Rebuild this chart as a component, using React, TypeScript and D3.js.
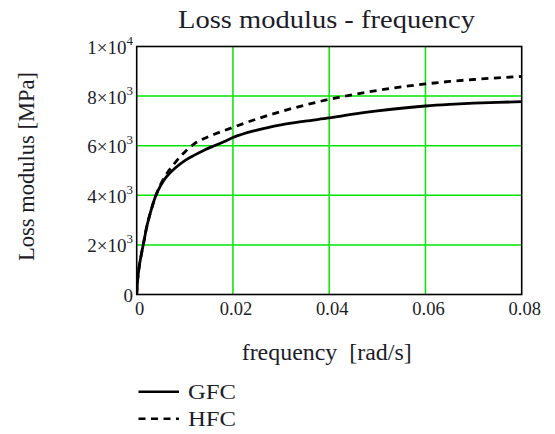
import React from "react";
import * as d3 from "d3";

// Frequency samples [rad/s]
const frequency = [
  0, 0.0002, 0.0005, 0.001, 0.0015, 0.002, 0.003, 0.004, 0.005, 0.006, 0.007,
  0.008, 0.01, 0.012, 0.014, 0.016, 0.018, 0.02, 0.025, 0.03, 0.035, 0.04,
  0.045, 0.05, 0.055, 0.06, 0.065, 0.07, 0.075, 0.08,
];

// Loss modulus [MPa]
const gfc = [
  0, 600, 1100, 1650, 2150, 2650, 3400, 4000, 4400, 4700, 4920, 5100, 5400,
  5620, 5820, 5990, 6150, 6330, 6630, 6840, 6990, 7120, 7270, 7400, 7510,
  7600, 7665, 7715, 7750, 7775,
];
const hfc = [
  0, 600, 1100, 1650, 2150, 2650, 3400, 4000, 4450, 4800, 5080, 5320, 5750,
  6080, 6290, 6450, 6600, 6740, 7080, 7380, 7640, 7870, 8060, 8230, 8370,
  8490, 8590, 8670, 8735, 8790,
];

const seriesNames = ["GFC", "HFC"];
const xTicks = [0, 0.02, 0.04, 0.06, 0.08];
const yTicks = [0, 2000, 4000, 6000, 8000, 10000];

const title = "Loss modulus - frequency";
const xTitle = "frequency\u00a0\u00a0[rad/s]";
const yTitle = "Loss modulus [MPa]";

const W = 555;
const H = 434;
const plot = { left: 136.7, right: 521.7, top: 46.5, bottom: 294.5 };
const TEXT = "#1c1c28";
const GRID = "#00e600";

const textStyle = { fontFamily: '"Liberation Serif"' };

function sciLabel(v: number) {
  if (v === 0) return { mant: "0", exp: null as string | null };
  const e = Math.floor(Math.log10(v));
  const m = v / Math.pow(10, e);
  return { mant: `${d3.format("~g")(m)}×10`, exp: String(e) };
}

export default function App() {
  const x = d3.scaleLinear().domain([0, 0.08]).range([plot.left, plot.right]);
  const y = d3.scaleLinear().domain([0, 10000]).range([plot.bottom, plot.top]);

  const line = d3
    .line<number>()
    .x((_, i) => x(frequency[i]))
    .y((v) => y(v))
    .curve(d3.curveMonotoneX);

  const series = [
    { name: seriesNames[0], values: gfc, dash: undefined as string | undefined },
    { name: seriesNames[1], values: hfc, dash: "7,5.5" },
  ];

  return (
    <svg
      width={W}
      height={H}
      style={{ position: "absolute", left: 0, top: 0, background: "#fff" }}
    >
      <rect width={W} height={H} fill="#fff" />

      {/* grid */}
      {xTicks.slice(1, -1).map((t) => (
        <line key={`gx${t}`} x1={x(t)} x2={x(t)} y1={plot.top} y2={plot.bottom} stroke={GRID} strokeWidth={1.5} />
      ))}
      {yTicks.slice(1, -1).map((t) => (
        <line key={`gy${t}`} x1={plot.left} x2={plot.right} y1={y(t)} y2={y(t)} stroke={GRID} strokeWidth={1.5} />
      ))}

      {/* curves */}
      <defs>
        <clipPath id="plotClip">
          <rect x={plot.left} y={plot.top - 2} width={plot.right - plot.left + 2} height={plot.bottom - plot.top + 2} />
        </clipPath>
      </defs>
      <g clipPath="url(#plotClip)">
        {series.map((s) => (
          <path
            key={s.name}
            d={line(s.values) || ""}
            fill="none"
            stroke="#000"
            strokeWidth={2.8}
            strokeDasharray={s.dash}
          />
        ))}
      </g>

      {/* frame */}
      <rect
        x={plot.left}
        y={plot.top}
        width={plot.right - plot.left}
        height={plot.bottom - plot.top}
        fill="none"
        stroke="#000"
        strokeWidth={1.6}
      />

      {/* y tick labels */}
      {yTicks.map((t) => {
        const { mant, exp } = sciLabel(t);
        return (
          <text key={`yl${t}`} x={133} y={y(t) + 7.5} textAnchor="end" fontSize={19} fill={TEXT} style={textStyle}>
            {mant}
            {exp && (
              <tspan dy={-9} fontSize={13}>
                {exp}
              </tspan>
            )}
          </text>
        );
      })}

      {/* x tick labels */}
      {xTicks.map((t) => (
        <text key={`xl${t}`} x={x(t) + 3} y={315} textAnchor="middle" fontSize={18.5} fill={TEXT} style={textStyle}>
          {t === 0 ? "0" : d3.format(".2f")(t)}
        </text>
      ))}

      {/* titles */}
      <text x={326.5} y={28} textAnchor="middle" fontSize={26} fill={TEXT} style={textStyle} textLength={297} lengthAdjust="spacingAndGlyphs">
        {title}
      </text>
      <text x={326.7} y={360} textAnchor="middle" fontSize={23} fill={TEXT} style={textStyle} textLength={170} lengthAdjust="spacingAndGlyphs">
        {xTitle}
      </text>
      <text
        transform={`translate(34,${166.5}) rotate(-90)`}
        textAnchor="middle"
        fontSize={22.5}
        fill={TEXT}
        style={textStyle}
      >
        {yTitle}
      </text>

      {/* legend */}
      {series.map((s, i) => {
        const ly = 391.7 + i * 27;
        return (
          <g key={`lg${s.name}`}>
            <line x1={138.5} x2={179} y1={ly} y2={ly} stroke="#000" strokeWidth={2.4} strokeDasharray={s.dash} />
            <text x={188} y={ly + 7.5} fontSize={22} fill={TEXT} style={textStyle} textLength={48} lengthAdjust="spacingAndGlyphs">
              {s.name}
            </text>
          </g>
        );
      })}
    </svg>
  );
}
